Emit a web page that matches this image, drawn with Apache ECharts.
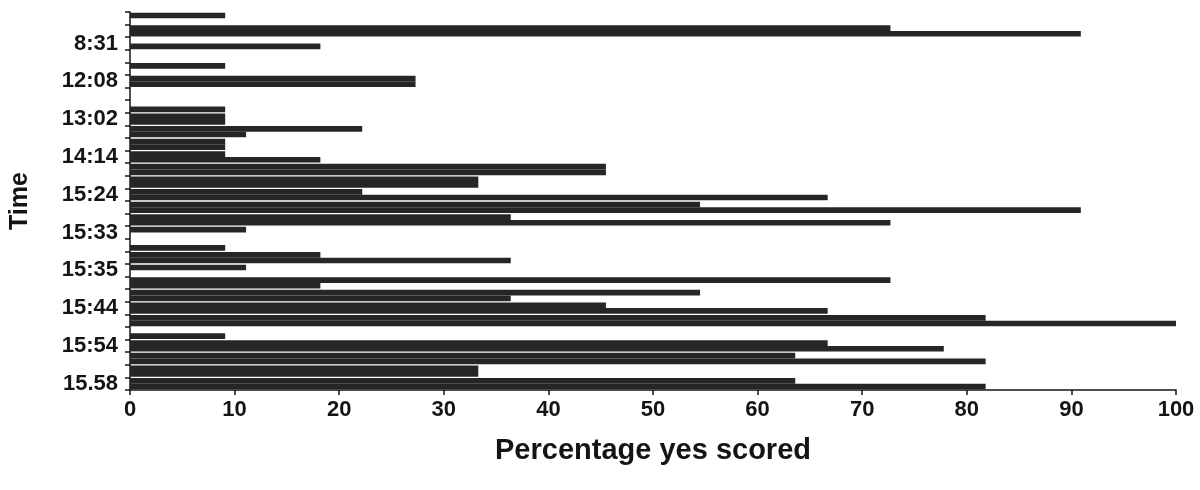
<!DOCTYPE html>
<html>
<head>
<meta charset="utf-8">
<script src="https://cdn.jsdelivr.net/npm/echarts@6/dist/echarts.min.js"></script>
<style>
html,body{margin:0;padding:0;background:#fff;}
#chart{width:1200px;height:490px;}
</style>
</head>
<body>
<div id="chart"></div>
<script>
// Categories listed top to bottom (only every third one is labelled in the original)
const categories = ['', '', '8:31', '', '', '12:08', '', '', '13:02', '', '', '14:14', '', '', '15:24',
                    '', '', '15:33', '', '', '15:35', '', '', '15:44', '', '', '15:54', '', '', '15.58'];
// First (upper) bar in each category band, top to bottom
const upperBars = [9.1, 72.7, 0, 0, 9.1, 27.3, 0, 0, 9.1, 22.2, 9.1, 9.1, 45.5, 33.3, 22.2,
                   54.5, 36.4, 11.1, 0, 18.2, 11.1, 72.7, 54.5, 45.5, 81.8, 0, 66.7, 63.6, 33.3, 63.6];
// Second (lower) bar in each category band, top to bottom
const lowerBars = [0, 90.9, 18.2, 0, 0, 27.3, 0, 9.1, 9.1, 11.1, 9.1, 18.2, 45.5, 33.3, 66.7,
                   90.9, 72.7, 0, 9.1, 36.4, 0, 18.2, 36.4, 66.7, 100, 9.1, 77.8, 81.8, 33.3, 81.8];
const xTicks = [0, 10, 20, 30, 40, 50, 60, 70, 80, 90, 100];

const FONT = "'Liberation Sans', Arial, sans-serif";
const INK = '#141414';
const BAR = '#262626';

const chart = echarts.init(document.getElementById('chart'), null, {renderer: 'canvas'});
chart.setOption({
  animation: false,
  backgroundColor: '#ffffff',
  grid: {left: 130, right: 24, top: 12, bottom: 100, containLabel: false},
  xAxis: {
    type: 'value',
    min: xTicks[0],
    max: xTicks[xTicks.length - 1],
    interval: 10,
    name: 'Percentage yes scored',
    nameLocation: 'middle',
    nameGap: 46,
    nameTextStyle: {fontFamily: FONT, fontWeight: 'bold', fontSize: 29, color: INK},
    axisLine: {show: true, lineStyle: {color: INK, width: 1.5}},
    axisTick: {show: true, length: 5, lineStyle: {color: INK, width: 1.5}},
    axisLabel: {fontFamily: FONT, fontWeight: 'bold', fontSize: 22, color: INK, margin: 9},
    splitLine: {show: false}
  },
  yAxis: {
    type: 'category',
    inverse: true,
    data: categories,
    name: 'Time',
    nameLocation: 'middle',
    nameGap: 97,
    nameRotate: 90,
    nameTextStyle: {fontFamily: FONT, fontWeight: 'bold', fontSize: 25, color: INK},
    axisLine: {show: true, lineStyle: {color: INK, width: 1.5}},
    axisTick: {show: true, length: 5, interval: 0, alignWithLabel: false, lineStyle: {color: INK, width: 1.5}},
    axisLabel: {interval: 0, fontFamily: FONT, fontWeight: 'bold', fontSize: 22, color: INK, margin: 12},
    splitLine: {show: false}
  },
  series: [
    {name: 'upper', type: 'bar', data: upperBars, itemStyle: {color: BAR}, barGap: '0%', barCategoryGap: '10%'},
    {name: 'lower', type: 'bar', data: lowerBars, itemStyle: {color: BAR}, barGap: '0%', barCategoryGap: '10%'}
  ]
});
</script>
</body>
</html>
